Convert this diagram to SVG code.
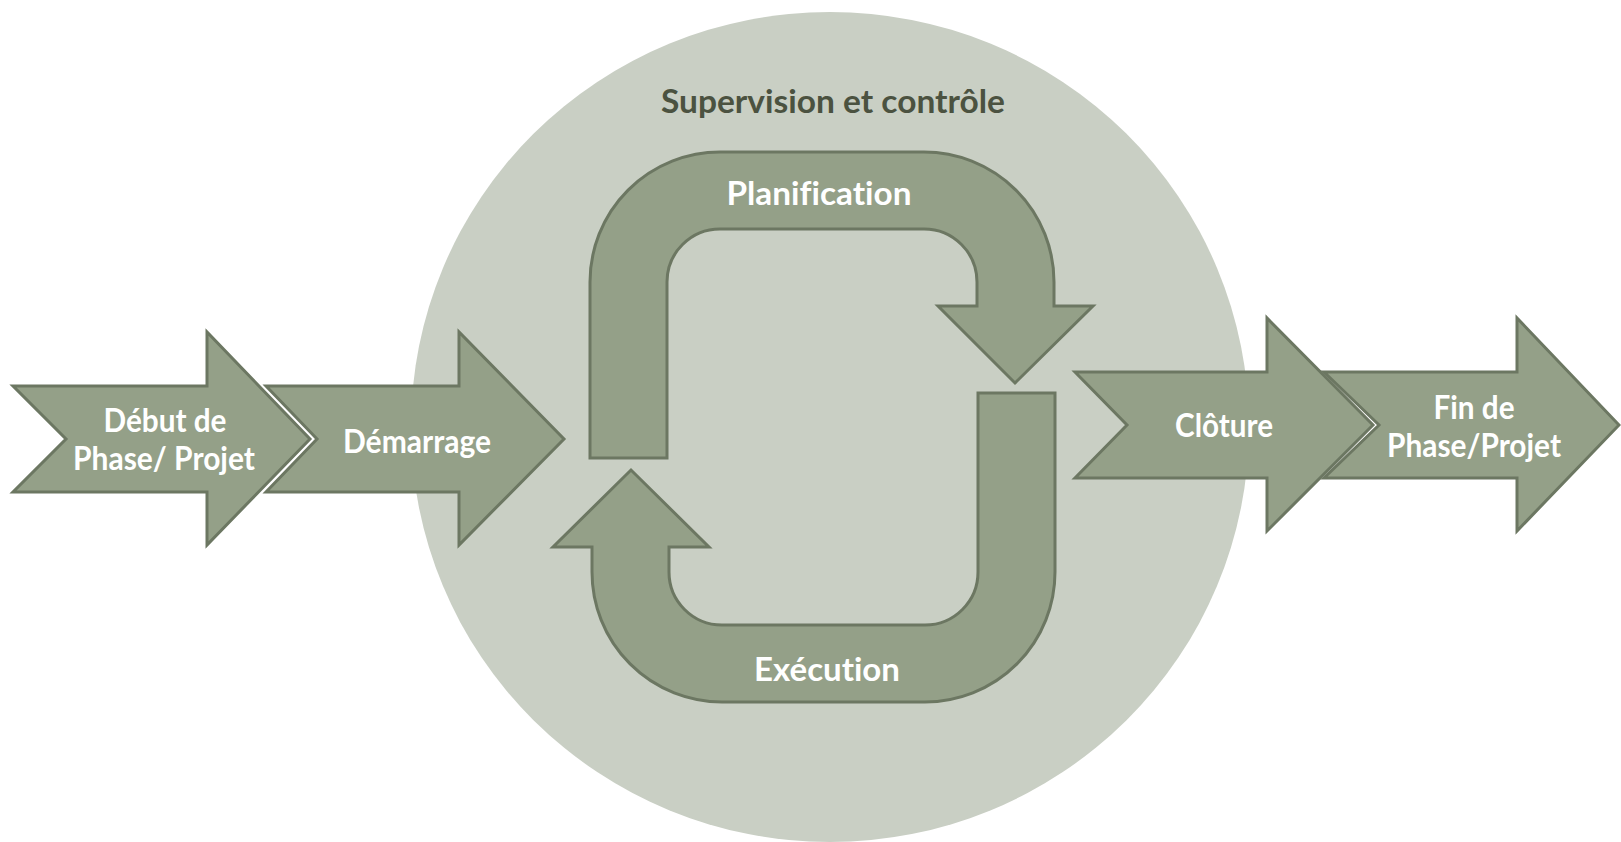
<svg xmlns="http://www.w3.org/2000/svg" width="1621" height="842" viewBox="0 0 1621 842">
<style>
.shape{fill:#94a088;stroke:#6c7762;stroke-width:3;stroke-linejoin:miter}
.lbl{font-family:Lato,"Open Sans",sans-serif;font-weight:bold;font-size:32px;fill:#ffffff;text-anchor:middle;font-variant-ligatures:none}
.title{font-family:Lato,"Open Sans",sans-serif;font-weight:bold;font-size:33px;fill:#4b5240;text-anchor:middle;font-variant-ligatures:none}
</style>
<rect width="1621" height="842" fill="#ffffff"/>
<g id="supervision">
<ellipse cx="830" cy="427" rx="419" ry="415" fill="#c9cfc4"/>
<text class="title" x="833" y="113" textLength="344" lengthAdjust="spacingAndGlyphs">Supervision et contrôle</text>
</g>
<g id="connectors">
<g id="planification">
<path class="shape" d="M590,458 L590,282 A130,130 0 0 1 720,152 L924,152 A130,130 0 0 1 1054,282 L1054,306 L1093,306 L1015,383 L938,306 L977,306 L977,282 A53,53 0 0 0 924,229 L720,229 A53,53 0 0 0 667,282 L667,458 Z"/>
<text class="lbl" x="819" y="205" textLength="185" lengthAdjust="spacingAndGlyphs">Planification</text>
</g>
<g id="execution">
<path class="shape" d="M978,393 L1055,393 L1055,572 A130,130 0 0 1 925,702 L722,702 A130,130 0 0 1 592,572 L592,547 L553,547 L631,470 L709,547 L669,547 L669,572 A53,53 0 0 0 722,625 L925,625 A53,53 0 0 0 978,572 Z"/>
<text class="lbl" x="827" y="681" textLength="146" lengthAdjust="spacingAndGlyphs">Exécution</text>
</g>
</g>
<g id="debut">
<path class="shape" d="M13,386 L207,386 L207,332 L310,439 L207,545 L207,492 L13,492 L66,439 Z"/>
<text class="lbl" x="165" y="432" textLength="123" lengthAdjust="spacingAndGlyphs">Début de</text>
<text class="lbl" x="164" y="470" textLength="182" lengthAdjust="spacingAndGlyphs">Phase/ Projet</text>
</g>
<g id="demarrage">
<path class="shape" d="M266,386 L459,386 L459,332 L564,439 L459,545 L459,492 L266,492 L317,439 Z"/>
<text class="lbl" x="417" y="453" textLength="148" lengthAdjust="spacingAndGlyphs">Démarrage</text>
</g>
<g id="cloture">
<path class="shape" d="M1075,372 L1267,372 L1267,318 L1373,425 L1267,531 L1267,478 L1075,478 L1127,425 Z"/>
<text class="lbl" x="1224" y="437" textLength="98" lengthAdjust="spacingAndGlyphs">Clôture</text>
</g>
<g id="fin">
<path class="shape" d="M1324,372 L1517,372 L1517,318 L1619,425 L1517,531 L1517,478 L1324,478 L1379,425 Z"/>
<text class="lbl" x="1474" y="419" textLength="81" lengthAdjust="spacingAndGlyphs">Fin de</text>
<text class="lbl" x="1474" y="457" textLength="174" lengthAdjust="spacingAndGlyphs">Phase/Projet</text>
</g>
</svg>
